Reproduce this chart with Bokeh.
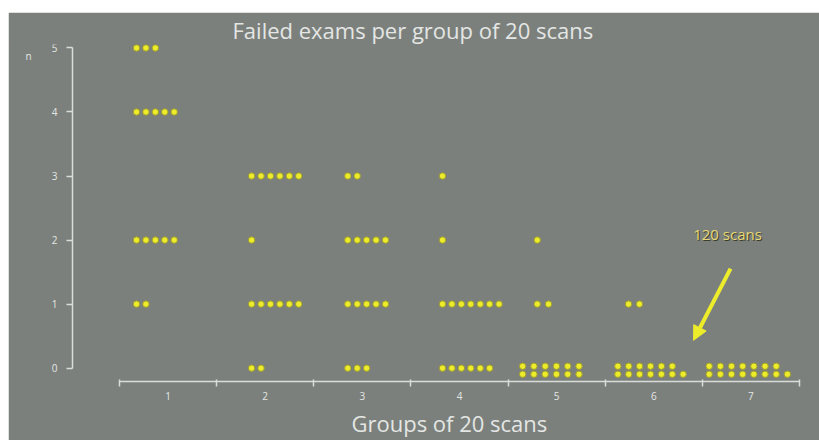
from bokeh.plotting import figure
from bokeh.models import FixedTicker, Label, Arrow, NormalHead, ColumnDataSource, Spacer, Title
from bokeh.layouts import column, row
from bokeh.embed import file_html
from bokeh.resources import INLINE

# ---- data ----
groups = [1, 2, 3, 4, 5, 6, 7]
levels = [0, 1, 2, 3, 4, 5]
# number of dots per group at each level n
n0 = [0, 2, 3, 6, 12, 13, 15]
n1 = [2, 6, 5, 7, 2, 2, 0]
n2 = [5, 1, 5, 1, 1, 0, 0]
n3 = [0, 6, 2, 1, 0, 0, 0]
n4 = [5, 0, 0, 0, 0, 0, 0]
n5 = [3, 0, 0, 0, 0, 0, 0]
x_tick_labels = ["1", "2", "3", "4", "5", "6", "7"]
title_text = "Failed exams per group of 20 scans"
x_title = "Groups of 20 scans"
y_title = "n"
note_text = "120 scans"

# ---- layout constants (positions of the dot rows inside each group) ----
upper_start = [-0.325, -0.14, -0.15, -0.175, -0.2, -0.26, -0.43]
bottom_start = [-0.325, -0.14, -0.15, -0.175, -0.35, -0.37, -0.43]
spacing = [0.097, 0.097, 0.097, 0.097, 0.116, 0.112, 0.115]
MAX_ROW = 7
ROW_SHIFT_UP = 0.03
ROW_SHIFT_DOWN = -0.095

counts_by_level = [n0, n1, n2, n3, n4, n5]
xs, ys = [], []
for lvl, counts in zip(levels, counts_by_level):
    for gi, g in enumerate(groups):
        c = counts[gi]
        if c == 0:
            continue
        start = g + (bottom_start[gi] if lvl == 0 else upper_start[gi])
        if c > MAX_ROW:
            top = c // 2
            rows = [(top, lvl + ROW_SHIFT_UP), (c - top, lvl + ROW_SHIFT_DOWN)]
        else:
            rows = [(c, lvl)]
        for k, yy in rows:
            for i in range(k):
                xs.append(start + i * spacing[gi])
                ys.append(yy)

src = ColumnDataSource(dict(x=xs, y=ys))

BG = "#7b807c"
AXC = "#d9ddd9"
TXT = "#e4e6e4"
FONT = "Open Sans"
YELLOW = "#ecec2a"

p = figure(width=811, height=428, output_backend="svg", toolbar_location=None,
           x_range=(-0.5603, 7.613), y_range=(-0.2085, 5.054),
           min_border_left=8, min_border_right=9, min_border_top=28, min_border_bottom=20)
p.background_fill_color = BG
p.border_fill_color = BG
# outline drawn in the background colour to hide the seam between frame and border
p.outline_line_color = BG
p.outline_line_width = 3
p.grid.visible = False

p.title.text = title_text
p.title.align = "left"
p.title.offset = 216
p.title.text_font = FONT
p.title.text_font_size = "22px"
p.title.text_font_style = "normal"
p.title.text_color = TXT
p.title.standoff = 0

# x axis
xa = p.xaxis[0]
xa.ticker = FixedTicker(ticks=groups, minor_ticks=[g - 0.5 for g in groups] + [groups[-1] + 0.5])
xa.major_label_overrides = {g: l for g, l in zip(groups, x_tick_labels)}
xa.bounds = (0.5, 7.5)
xa.axis_line_color = AXC
xa.axis_line_width = 1.5
xa.major_tick_out = 0
xa.major_tick_in = 0
xa.minor_tick_out = 5
xa.minor_tick_in = 2
xa.minor_tick_line_color = AXC
xa.minor_tick_line_width = 1.5
xa.major_label_standoff = 5
xa.major_label_text_font = FONT
xa.major_label_text_font_size = "10px"
xa.major_label_text_color = TXT

# x axis title, placed below the axis so it can be aligned like the original
p.add_layout(Title(text=x_title, align="left", offset=335, text_font=FONT,
                   text_font_size="22px", text_font_style="normal",
                   text_color=TXT, standoff=6), "below")

# y axis, fixed inside the frame so that the 'n' label can sit to its left
ya = p.yaxis[0]
ya.fixed_location = 0.0162
ya.ticker = FixedTicker(ticks=levels, minor_ticks=[])
ya.bounds = (0, 5)
ya.axis_line_color = AXC
ya.axis_line_width = 1.5
ya.major_tick_out = 6
ya.major_tick_in = 0
ya.major_tick_line_color = AXC
ya.major_tick_line_width = 1.5
ya.minor_tick_out = 0
ya.minor_tick_in = 0
ya.major_label_standoff = 9
ya.major_label_text_font = FONT
ya.major_label_text_font_size = "10px"
ya.major_label_text_color = TXT

# dots
p.scatter("x", "y", source=src, marker="circle", size=6.5,
          fill_color=YELLOW, line_color="#9c9a34", line_width=1)

# 'n' label at top of y axis
p.add_layout(Label(x=-0.4368, y=4.87, text=y_title, text_font=FONT,
                   text_font_size="10px", text_color=TXT,
                   text_align="center", text_baseline="middle"))

# arrow and note
p.add_layout(Arrow(x_start=6.79, y_start=1.555, x_end=6.409, y_end=0.435,
                   line_color=YELLOW, line_width=4,
                   end=NormalHead(size=14, fill_color=YELLOW, line_color=YELLOW)))
p.add_layout(Label(x=6.759, y=2.1, text=note_text, text_font=FONT,
                   text_font_size="15px", text_color="#3e3e28", x_offset=1, y_offset=-1,
                   text_align="center", text_baseline="middle"))
p.add_layout(Label(x=6.759, y=2.1, text=note_text, text_font=FONT,
                   text_font_size="15px", text_color="#e6d878",
                   text_align="center", text_baseline="middle"))

layout = column(Spacer(height=12), row(Spacer(width=8), p))
open("out.html", "w").write(file_html(layout, INLINE))
